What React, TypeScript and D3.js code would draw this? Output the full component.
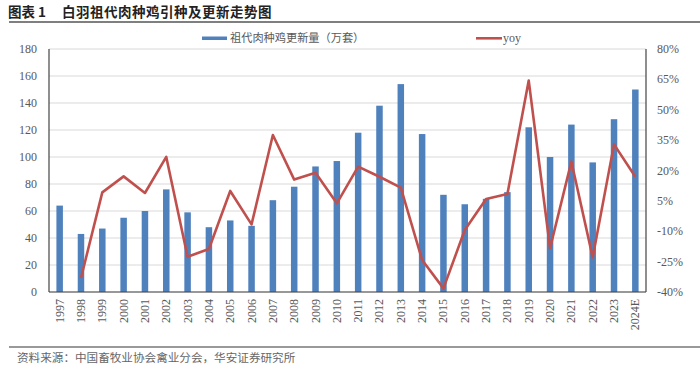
import React from "react";
import * as d3 from "d3";

const years = ["1997","1998","1999","2000","2001","2002","2003","2004","2005","2006","2007","2008","2009","2010","2011","2012","2013","2014","2015","2016","2017","2018","2019","2020","2021","2022","2023","2024E"];
const volume = [64,43,47,55,60,76,59,48,53,49,68,78,93,97,118,138,154,117,72,65,69,74,122,100,124,96,128,150];
const yoy: (number | null)[] = [null,-33.1,9.2,17.1,8.9,26.7,-22.6,-18.8,9.9,-6.6,37.5,15.5,18.9,3.8,21.9,16.9,11.5,-24.2,-38.2,-9.4,5.9,8.4,64.4,-18.4,24.4,-22.9,32.9,16.9];
const leftTicks = [0,20,40,60,80,100,120,140,160,180];
const rightTicks = [-40,-25,-10,5,20,35,50,65,80];

const W = 700, H = 375;
const L = 49, R = 646, T = 49, B = 292;

export default function App() {
  const x = d3.scaleBand<string>().domain(years).range([L, R]).paddingInner(0).paddingOuter(0);
  const yL = d3.scaleLinear().domain([0, 180]).range([B, T]);
  const yR = d3.scaleLinear().domain([-40, 80]).range([B, T]);
  const bw = 6.5;
  const line = d3.line<[string, number | null]>()
    .defined(d => d[1] !== null)
    .x(d => (x(d[0]) as number) + x.bandwidth() / 2)
    .y(d => yR(d[1] as number));
  const pts: [string, number | null][] = years.map((y, i) => [y, yoy[i]]);
  const serif = "'Liberation Serif', 'Times New Roman', serif";
  const cjk = "'Noto Sans CJK SC', sans-serif";
  return (
    <svg width={W} height={H} style={{ position: "absolute", left: 0, top: 0, background: "#fff" }}>
      <text x={8} y={17} fontFamily={cjk} fontWeight="bold" fontSize={13.5} fill="#222">图表 1</text>
      <text x={62} y={17} fontFamily={cjk} fontWeight="bold" fontSize={13.5} fill="#222" letterSpacing={0.5}>白羽祖代肉种鸡引种及更新走势图</text>
      <line x1={9} x2={700} y1={22} y2={22} stroke="#555" strokeWidth={1.5} />
      {leftTicks.map(t => (
        <line key={"g" + t} x1={L} x2={R} y1={yL(t)} y2={yL(t)} stroke="#d9d9d9" strokeWidth={1} />
      ))}
      {volume.map((v, i) => (
        <rect key={"b" + i} x={(x(years[i]) as number) + x.bandwidth() / 2 - bw / 2} y={yL(v)} width={bw} height={B - yL(v)} fill="#4F81BD" />
      ))}
      <path d={line(pts) || ""} fill="none" stroke="#C0504D" strokeWidth={2.6} strokeLinejoin="round" />
      <line x1={L} x2={L} y1={T} y2={B} stroke="#444" strokeWidth={1.2} />
      <line x1={R} x2={R} y1={T} y2={B} stroke="#444" strokeWidth={1.2} />
      <line x1={L} x2={R} y1={B} y2={B} stroke="#444" strokeWidth={1.2} />
      {leftTicks.map(t => (
        <text key={"l" + t} x={37} y={yL(t) + 4} textAnchor="end" fontFamily={serif} fontSize={12} fill="#595959">{t}</text>
      ))}
      {rightTicks.map(t => (
        <text key={"r" + t} x={657} y={yR(t) + 4} textAnchor="start" fontFamily={serif} fontSize={12} fill="#595959">{t + "%"}</text>
      ))}
      {years.map(y => {
        const cx = (x(y) as number) + x.bandwidth() / 2;
        return (
          <text key={"x" + y} transform={`translate(${cx + 4},299) rotate(-90)`} textAnchor="end" fontFamily={serif} fontSize={12} fill="#595959">{y}</text>
        );
      })}
      <rect x={202} y={36.5} width={25} height={3.5} fill="#4F81BD" />
      <text x={230} y={42} fontFamily={cjk} fontSize={11.2} fill="#595959">祖代肉种鸡更新量（万套）</text>
      <line x1={476} x2={502} y1={38.3} y2={38.3} stroke="#C0504D" strokeWidth={2.6} />
      <text x={503} y={42} fontFamily={serif} fontSize={12} fill="#595959">yoy</text>
      <line x1={9} x2={700} y1={347} y2={347} stroke="#777" strokeWidth={1.5} />
      <text x={17} y={362} fontFamily={cjk} fontSize={11.6} fill="#666">资料来源：中国畜牧业协会禽业分会，华安证券研究所</text>
    </svg>
  );
}
